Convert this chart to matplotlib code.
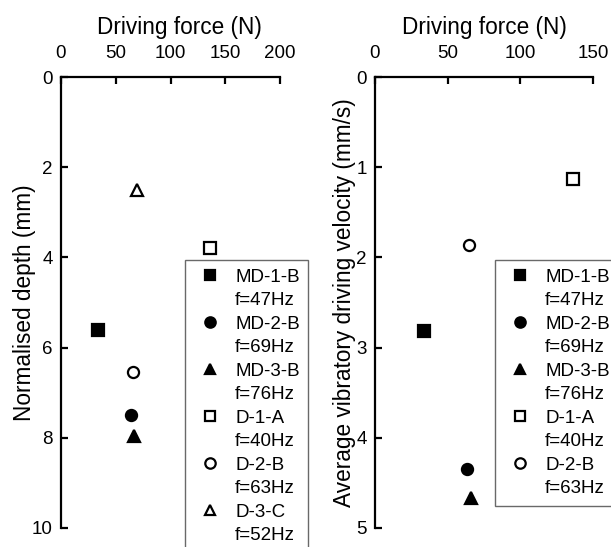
import matplotlib
matplotlib.use('Agg')
import matplotlib.pyplot as plt
from matplotlib.lines import Line2D

plt.rcParams['font.family'] = ['Liberation Sans', 'DejaVu Sans']

# specimens and frequencies
names = ['MD-1-B', 'MD-2-B', 'MD-3-B', 'D-1-A', 'D-2-B', 'D-3-C']
freqs = ['f=47Hz', 'f=69Hz', 'f=76Hz', 'f=40Hz', 'f=63Hz', 'f=52Hz']
markers = ['s', 'o', '^', 's', 'o', '^']
filled = [True, True, True, False, False, False]

# left panel: driving force vs normalised depth
force_depth = [34, 64, 67, 136, 66, 69]
depth = [5.6, 7.5, 7.95, 3.8, 6.55, 2.5]

# right panel: driving force vs average velocity (no D-3-C)
force_vel = [34, 63, 66, 136, 65]
velocity = [2.82, 4.35, 4.67, 1.13, 1.86]

fs = 13.5
lfs = 16.3
fig = plt.figure(figsize=(6.11, 5.47), dpi=100)
ax1 = fig.add_axes([61/611, 1-528/547, 219/611, 451/547])
ax2 = fig.add_axes([375/611, 1-528/547, 218/611, 451/547])


def style(ax):
    for s in ['right', 'bottom']:
        ax.spines[s].set_visible(False)
    for s in ['left', 'top']:
        ax.spines[s].set_linewidth(1.6)
    ax.xaxis.tick_top()
    ax.xaxis.set_label_position('top')
    ax.tick_params(direction='in', length=5, width=1.6, labelsize=fs)
    ax.tick_params(axis='x', pad=10.5)
    ax.tick_params(axis='y', pad=6)


def marker_kw(i, ms=8):
    return dict(marker=markers[i], markersize=ms, linestyle='none',
                markerfacecolor='black' if filled[i] else 'white',
                markeredgecolor='black', markeredgewidth=1.6)


def add_legend(ax, n, anchor):
    handles = []
    labels = []
    for i in range(n):
        handles.append(Line2D([], [], **marker_kw(i, ms=7.5)))
        labels.append(names[i])
        handles.append(Line2D([], [], linestyle='none'))
        labels.append(freqs[i])
    leg = fig.legend(handles, labels, loc='upper left', bbox_to_anchor=anchor,
                     bbox_transform=fig.transFigure, fontsize=fs,
                     frameon=True, fancybox=False, borderpad=0.45,
                     handlelength=1.77, handletextpad=0.45, labelspacing=0.34,
                     borderaxespad=0)
    leg.get_frame().set_edgecolor('#444444')
    leg.get_frame().set_linewidth(1.0)


for i in range(len(names)):
    ax1.plot(force_depth[i], depth[i], **marker_kw(i), clip_on=False)
ax1.set_xlim(0, 200)
ax1.set_ylim(10, 0)
ax1.set_xticks([0, 50, 100, 150, 200])
ax1.set_yticks([0, 2, 4, 6, 8, 10])
style(ax1)
ax1.set_xlabel('Driving force (N)', fontsize=lfs)
ax1.xaxis.set_label_coords(0.543, 1.095)
ax1.set_ylabel('Normalised depth (mm)', fontsize=lfs, labelpad=-3)
add_legend(ax1, 6, (185/611, 1-260/547))

for i in range(len(velocity)):
    ax2.plot(force_vel[i], velocity[i], **marker_kw(i), clip_on=False)
ax2.set_xlim(0, 150)
ax2.set_ylim(5, 0)
ax2.set_xticks([0, 50, 100, 150])
ax2.set_yticks([0, 1, 2, 3, 4, 5])
style(ax2)
ax2.set_xlabel('Driving force (N)', fontsize=lfs)
ax2.xaxis.set_label_coords(0.5, 1.095)
ax2.set_ylabel('Average vibratory driving velocity (mm/s)', fontsize=lfs, labelpad=0)
add_legend(ax2, 5, (495/611, 1-260/547))

fig.savefig('out.png', dpi=100)
